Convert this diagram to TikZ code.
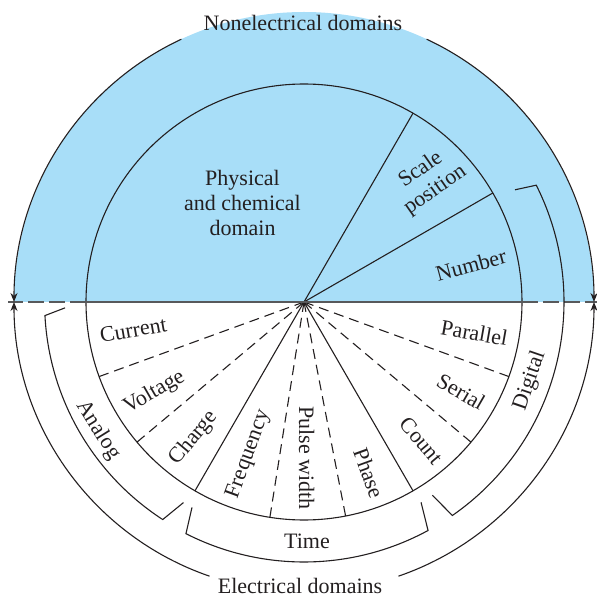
\documentclass[tikz,border=0pt]{standalone}
\usepackage{fontspec}
\setmainfont{Liberation Serif}
\usetikzlibrary{arrows.meta}
\definecolor{skyb}{RGB}{168,222,248}
\definecolor{midline}{RGB}{88,89,91}
\definecolor{ink}{RGB}{35,31,32}
\begin{document}
\begin{tikzpicture}[x=1pt,y=1pt,
  font=\fontsize{22}{25}\selectfont,
  ln/.style={line width=1.1pt, ink},
  dln/.style={ln, dash pattern=on 10pt off 6pt},
  hln/.style={line width=2.6pt, midline},
  arr/.style={ln, -{Stealth[length=9pt,width=7pt]}},
  lbl/.style={inner sep=0pt, text=ink}]
\useasboundingbox (-304,-292) rectangle (293,302);
\coordinate (O) at (0,0);
% blue upper half
\fill[skyb] (-290,0) arc[start angle=180,end angle=0,radius=290] -- cycle;
% inner circle
\draw[ln] (O) circle[radius=218];
% solid radial lines
\foreach \a in {30,60,-60,-120} \draw[ln] (O) -- (\a:218);
% dashed radial lines
\foreach \a in {-160,-140,-99,-79,-20,-40} \draw[dln] (O) -- (\a:218);
% horizontal dividing line
\draw[hln] (-218,0) -- (218,0);
\draw[hln, dash pattern=on 16pt off 5pt] (-218,0) -- (-296,0);
\draw[hln, dash pattern=on 16pt off 5pt] (218,0) -- (293,0);
% outer arcs with arrows
\draw[arr] (115:290) arc[start angle=115,end angle=180,radius=290];
\draw[arr] (65:290) arc[start angle=65,end angle=0,radius=290];
\draw[arr] (-109:290) arc[start angle=-109,end angle=-180,radius=290];
\draw[arr] (-71:290) arc[start angle=-71,end angle=0,radius=290];
% titles
\node[lbl, anchor=base] (nonel) at (-1,271) {Nonelectrical domains};
\node[lbl, anchor=base] (elec) at (-4,-291) {Electrical domains};
% upper labels
\node[lbl, align=center] (phys) at (-61.5,99.5) {Physical\\and chemical\\domain};
\node[lbl, align=center, rotate=35] (scale) at (44.5:174) {Scale\\position};
\node[lbl, rotate=15] (number) at (12.5:171) {Number};
% lower labels
\node[lbl, rotate=10] (current) at (-170.7:173) {Current};
\node[lbl, rotate=30] (voltage) at (-148.8:175) {Voltage};
\node[lbl, rotate=50] (charge) at (-129:175) {Charge};
\node[lbl, rotate=70] (freq) at (-110:162) {Frequency};
\node[lbl, rotate=-90] (pulse) at (-89:156) {Pulse width};
\node[lbl, rotate=-70] (phase) at (-69.3:183) {Phase};
\node[lbl, rotate=-50] (count) at (-49.7:182) {Count};
\node[lbl, rotate=-30] (serial) at (-29.7:181) {Serial};
\node[lbl, rotate=-10] (parallel) at (-10.2:173) {Parallel};
% brackets
\draw[ln] (-178.6:239) -- (-177:259.4) arc[start angle=-177,end angle=-123,radius=259.4] -- (-121:234);
\draw[ln] (-118.6:234) -- (-117:260) arc[start angle=-117,end angle=-61.5,radius=260] -- (-59.7:232);
\draw[ln] (28:239) -- (26.7:260) arc[start angle=26.7,end angle=-55.2,radius=260] -- (-56.4:232);
\node[lbl, rotate=-58] (analog) at (-148.1:242.5) {Analog};
\node[lbl, rotate=71] (digital) at (-19.3:239.4) {Digital};
\node[lbl, anchor=base] (time) at (3,-246) {Time};
\end{tikzpicture}
\end{document}
